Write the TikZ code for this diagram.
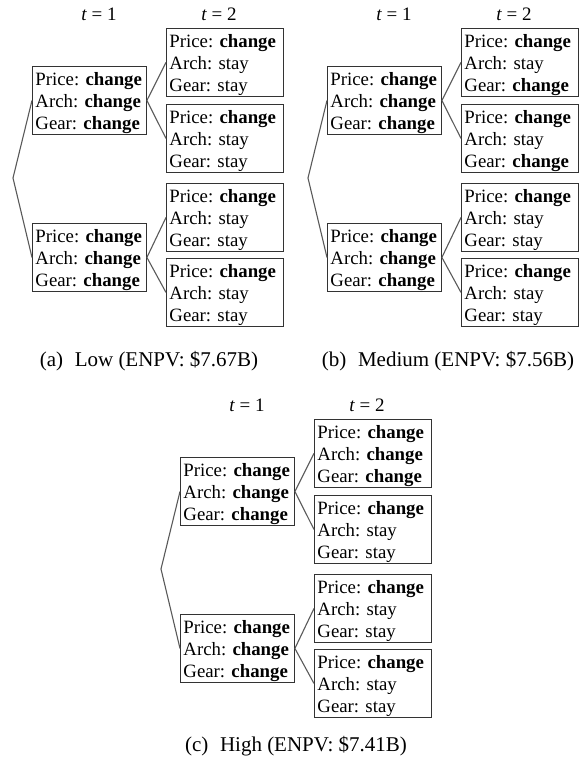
\documentclass[tikz,border=0pt]{standalone}
\usepackage{fontspec}
\setmainfont{Liberation Serif}
\frenchspacing
\tikzset{
  x=1pt, y=-1pt,
  statebox/.style={draw=black!80, line width=0.9pt, rectangle, anchor=north west,
    align=left, inner xsep=3pt, inner ysep=0pt, minimum height=68pt,
    font=\fontsize{18.8}{22}\selectfont\frenchspacing,
    execute at begin node={\rule{0pt}{18pt}}},
  leftbox/.style={statebox, text width=108pt},
  rightbox/.style={statebox, text width=111pt},
  branch/.style={draw=black!65, line width=1.1pt},
  tlabel/.style={font=\fontsize{19}{22}\selectfont, inner sep=0pt},
  caption/.style={font=\fontsize{21}{24}\selectfont\frenchspacing, inner sep=0pt}
}
\newcommand\CC{\textbf{change}}
\newcommand\allchange{Price: \CC\\Arch: \CC\\Gear: \CC}
\newcommand\mytreepanel[8]{%
  \begin{scope}[shift={(#1,#2)}]
    \node[tlabel] (#3t1) at (99,14) {\textit{t} = 1};
    \node[tlabel] (#3t2) at (219,14) {\textit{t} = 2};
    \coordinate (#3root) at (13,178);
    \node[leftbox] (#3L1) at (32,66) {\allchange};
    \node[leftbox] (#3L2) at (32,223) {\allchange};
    \node[rightbox] (#3R1) at (166,28) {#4};
    \node[rightbox] (#3R2) at (166,104) {#5};
    \node[rightbox] (#3R3) at (166,183) {#6};
    \node[rightbox] (#3R4) at (166,258) {#7};
    \draw[branch] (#3L1.west) -- (#3root) -- (#3L2.west);
    \draw[branch] (#3R1.west) -- (#3L1.east) -- (#3R2.west);
    \draw[branch] (#3R3.west) -- (#3L2.east) -- (#3R4.west);
    \coordinate (#3cap) at (#8);
  \end{scope}}
\begin{document}
\begin{tikzpicture}
\useasboundingbox (0,0) rectangle (582,765);
\mytreepanel{0}{0}{a}
  {Price: \CC\\Arch: stay\\Gear: stay}
  {Price: \CC\\Arch: stay\\Gear: stay}
  {Price: \CC\\Arch: stay\\Gear: stay}
  {Price: \CC\\Arch: stay\\Gear: stay}
  {149,361}
\mytreepanel{295}{0}{b}
  {Price: \CC\\Arch: stay\\Gear: \CC}
  {Price: \CC\\Arch: stay\\Gear: \CC}
  {Price: \CC\\Arch: stay\\Gear: stay}
  {Price: \CC\\Arch: stay\\Gear: stay}
  {153,361}
\mytreepanel{148}{391}{c}
  {\allchange}
  {Price: \CC\\Arch: stay\\Gear: stay}
  {Price: \CC\\Arch: stay\\Gear: stay}
  {Price: \CC\\Arch: stay\\Gear: stay}
  {148,355}
\node[caption] (acaption) at (acap) {(a)\hspace{0.55em}Low (ENPV: \$7.67B)};
\node[caption] (bcaption) at (bcap) {(b)\hspace{0.55em}Medium (ENPV: \$7.56B)};
\node[caption] (ccaption) at (ccap) {(c)\hspace{0.55em}High (ENPV: \$7.41B)};
\end{tikzpicture}
\end{document}
